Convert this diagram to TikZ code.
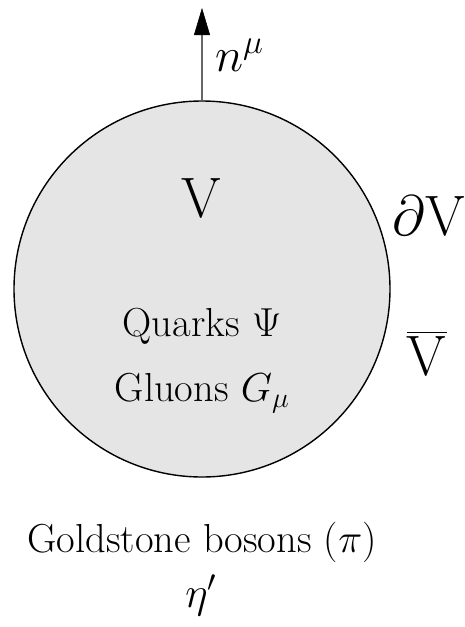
\RequirePackage{fix-cm}
\documentclass[tikz,border=0pt]{standalone}
\usepackage{amsmath}
\usetikzlibrary{arrows.meta}
\tikzset{
  lbl/.style={anchor=base, inner sep=0pt, outer sep=0pt},
  big/.style={lbl, font=\fontsize{57}{64}\selectfont},
  mid/.style={lbl, font=\fontsize{40.5}{46}\selectfont},
}
\begin{document}
\begin{tikzpicture}[x=1pt,y=-1pt]
\useasboundingbox (0,0) rectangle (465,627);
\node[circle, draw=black, line width=1.4pt, fill=black!10, minimum size=376pt, inner sep=0pt] (ball) at (202,289) {};
\coordinate (tip) at (202,8);
\draw[line width=1.6pt, draw=black!60, -{Triangle[length=27pt,width=16pt,color=black,fill=black,line width=0.5pt]}] (ball.north) -- (tip);
\node[lbl, font=\fontsize{48}{54}\selectfont, anchor=base west] (n) at (215,71) {$n^{\mu}$};
\node[big] (V) at (201,217) {V};
\node[big] (dV) at (429,235) {$\partial$V};
\node[big] (Vb) at (427,375) {$\overline{\mathrm{V}}$};
\node[mid] (q) at (202,336) {Quarks $\Psi$};
\node[mid] (g) at (202,401) {Gluons $G_{\mu}$};
\node[mid] (gb) at (202,552) {Goldstone bosons ($\pi$)};
\node[mid, font=\fontsize{43}{48}\selectfont] (eta) at (201,607) {$\eta'$};
\end{tikzpicture}
\end{document}
